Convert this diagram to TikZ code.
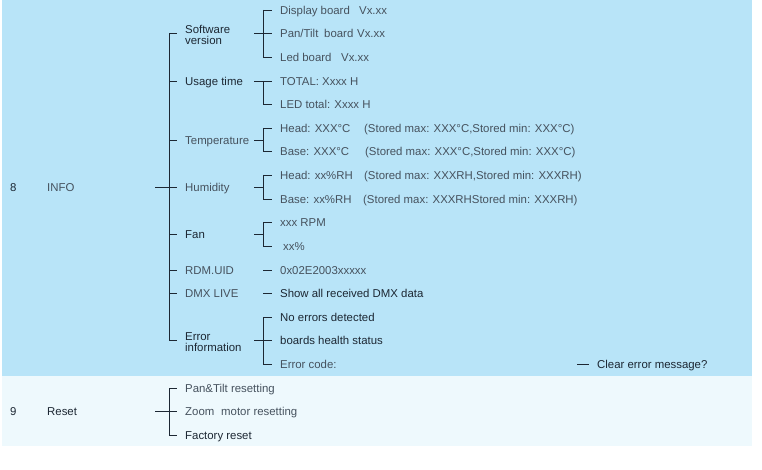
\documentclass[tikz,border=0pt]{standalone}
\usepackage{fontspec}
\setmainfont{Liberation Sans}
\definecolor{bandA}{HTML}{B8E4F8}
\definecolor{bandB}{HTML}{EEF9FD}
\definecolor{txtD}{HTML}{1C2733}
\definecolor{txtG}{HTML}{46525E}
\begin{document}
\begin{tikzpicture}[x=1pt,y=-1pt,
  every node/.style={inner sep=0pt,anchor=west,font=\fontsize{11.4}{11}\selectfont},
  one/.style={text height=8.2pt,text depth=0pt},
  two/.style={align=left,yshift=-1.2pt},
  dk/.style={text=txtD},
  gr/.style={text=txtG},
  ln/.style={draw=txtD,line width=0.8pt}]
\useasboundingbox (0,0) rectangle (762,470);
\fill[bandA] (2,0) rectangle (752,376);
\fill[bandB] (2,376) rectangle (752,446);

% bracket x positions
\coordinate (m0) at (155,0);
\coordinate (m1) at (169,0);
\coordinate (m2) at (177,0);
\coordinate (s0) at (254,0);
\coordinate (s1) at (263,0);
\coordinate (s2) at (272,0);

% top level
\node[one,dk] (n8) at (10,187) {8};
\node[one,gr] (info) at (47,187) {INFO};
\node[one,dk] (n9) at (10,411) {9};
\node[one,dk] (reset) at (47,411) {Reset};

% level 1
\node[two,dk] (sw) at (185,33.5) {Software\\version};
\coordinate (swc) at (185,33.5);
\node[one,dk] (ut) at (185,81) {Usage time};
\node[one,gr] (tp) at (185,140) {Temperature};
\node[one,gr] (hu) at (185,187) {Humidity};
\node[one,dk] (fan) at (185,234) {Fan};
\node[one,gr] (rdm) at (185,270) {RDM.UID};
\node[one,gr] (dmx) at (185,293) {DMX LIVE};
\node[two,dk] (err) at (185,340.5) {Error\\information};
\coordinate (errc) at (185,340.5);

% level 2
\node[one,gr] (sw1) at (280,10) {\makebox[79pt][l]{Display board}Vx.xx};
\node[one,gr] (sw2) at (280,33) {\makebox[44pt][l]{Pan/Tilt}\makebox[33pt][l]{board}Vx.xx};
\node[one,gr] (sw3) at (280,57) {\makebox[61pt][l]{Led board}Vx.xx};
\node[one,gr] (ut1) at (280,81) {TOTAL: Xxxx H};
\node[one,gr] (ut2) at (280,104) {LED total: Xxxx H};
\node[one,gr] (tp1) at (280,128) {\makebox[84pt][l]{Head: XXX°C}(Stored max: XXX°C,Stored min: XXX°C)};
\node[one,gr] (tp2) at (280,151) {\makebox[85pt][l]{Base: XXX°C}(Stored max: XXX°C,Stored min: XXX°C)};
\node[one,gr] (hu1) at (280,175) {\makebox[84pt][l]{Head: xx\%RH}(Stored max: XXXRH,Stored min: XXXRH)};
\node[one,gr] (hu2) at (280,199) {\makebox[83pt][l]{Base: xx\%RH}(Stored max: XXXRHStored min: XXXRH)};
\node[one,gr] (fa1) at (280,222) {xxx RPM};
\node[one,gr] (fa2) at (283,246) {xx\%};
\node[one,gr] (rd1) at (280,270) {0x02E2003xxxxx};
\node[one,dk] (dm1) at (280,293) {Show all received DMX data};
\node[one,dk] (er1) at (280,317) {No errors detected};
\node[one,dk] (er2) at (280,340) {boards health status};
\node[one,gr] (er3) at (280,364) {Error code:};
\node[one,dk] (clr) at (597,364) {Clear error message?};

% reset children
\node[one,gr] (rs1) at (185,388) {Pan\&Tilt resetting};
\node[one,gr] (rs2) at (185,411) {\makebox[36pt][l]{Zoom}motor resetting};
\node[one,dk] (rs3) at (185,435) {Factory reset};

% main INFO bracket
\draw[ln] (info.west -| m0) -- (info.west -| m1);
\draw[ln] (swc -| m1) -- (errc -| m1);
\foreach \c in {swc,ut.west,tp.west,hu.west,fan.west,rdm.west,dmx.west,errc} \draw[ln] (\c -| m1) -- (\c -| m2);

% reset bracket
\draw[ln] (reset.west -| m0) -- (reset.west -| m1);
\draw[ln] (rs1.west -| m1) -- (rs3.west -| m1);
\foreach \c in {rs1,rs2,rs3} \draw[ln] (\c.west -| m1) -- (\c.west -| m2);

% level-2 brackets
\draw[ln] (sw2.west -| s0) -- (sw2.west -| s1);
\draw[ln] (sw1.west -| s1) -- (sw3.west -| s1);
\draw[ln] (ut.west -| s0) -- (ut.west -| s1);
\draw[ln] (ut1.west -| s1) -- (ut2.west -| s1);
\draw[ln] (tp.west -| s0) -- (tp.west -| s1);
\draw[ln] (tp1.west -| s1) -- (tp2.west -| s1);
\draw[ln] (hu.west -| s0) -- (hu.west -| s1);
\draw[ln] (hu1.west -| s1) -- (hu2.west -| s1);
\draw[ln] (fan.west -| s0) -- (fan.west -| s1);
\draw[ln] (fa1.west -| s1) -- (fa2.west -| s1);
\draw[ln] (er2.west -| s0) -- (er2.west -| s1);
\draw[ln] (er1.west -| s1) -- (er3.west -| s1);
\foreach \c in {sw1,sw2,sw3,ut1,ut2,tp1,tp2,hu1,hu2,fa1,fa2,er1,er2,er3}
  \draw[ln] (\c.west -| s1) -- (\c.west -| s2);
\draw[ln] (rd1.west -| s1) -- (rd1.west -| s2);
\draw[ln] (dm1.west -| s1) -- (dm1.west -| s2);
\draw[ln] ([xshift=-20pt]clr.west) -- ([xshift=-8pt]clr.west);
\end{tikzpicture}
\end{document}
